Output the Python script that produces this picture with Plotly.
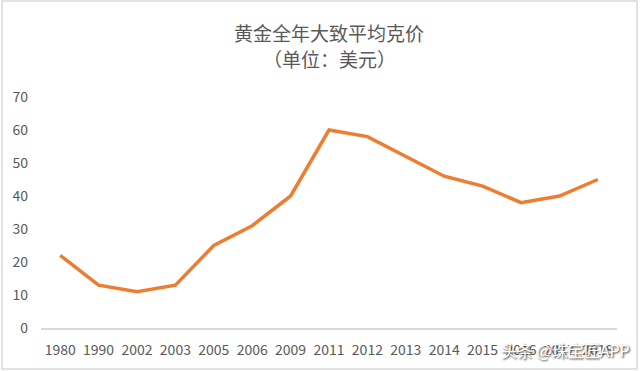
import plotly.graph_objects as go

years = ["1980", "1990", "2002", "2003", "2005", "2006", "2009", "2011",
         "2012", "2013", "2014", "2015", "2016", "2017", "2018"]
prices = [22, 13, 11, 13, 25, 31, 40, 60, 58, 52, 46, 43, 38, 40, 45]
title_1 = "黄金全年大致平均克价"
title_2 = "（单位：美元）"
y_ticks = [0, 10, 20, 30, 40, 50, 60, 70]

fig = go.Figure()
fig.add_trace(go.Scatter(
    x=years, y=prices, mode="lines",
    line=dict(color="#ED7D31", width=3.5),
    hoverinfo="x+y",
))

font_family = "Noto Sans CJK SC, Liberation Sans, sans-serif"

fig.update_layout(
    width=640, height=371,
    margin=dict(l=41, r=23, t=97, b=43),
    paper_bgcolor="white", plot_bgcolor="white",
    showlegend=False,
    font=dict(family=font_family, color="#595959", size=14),
    xaxis=dict(
        type="category", range=[-0.5, len(years) - 0.5],
        showgrid=False, zeroline=False,
        showline=True, linecolor="#D9D9D9", linewidth=1.5,
        ticks="", tickfont=dict(size=14, color="#595959"),
        ticklabelstandoff=8,
    ),
    yaxis=dict(
        range=[0, 70], tickvals=y_ticks, showgrid=False, zeroline=False,
        showline=False, ticks="", tickfont=dict(size=14, color="#595959"),
        ticklabelstandoff=12,
    ),
    annotations=[
        dict(text=title_1, xref="paper", yref="paper", x=0.5, y=(371 - 43 - 32) / 231,
             xanchor="center", yanchor="middle", showarrow=False,
             font=dict(size=19, color="#595959", family=font_family)),
        dict(text=title_2, xref="paper", yref="paper", x=0.5, y=(371 - 43 - 58) / 231,
             xanchor="center", yanchor="middle", showarrow=False,
             font=dict(size=19, color="#595959", family=font_family)),
        dict(text="头条 @珠宝匠APP", xref="paper", yref="paper",
             x=(632 - 41) / 576, y=-(350 - 328) / 231,
             xanchor="right", yanchor="middle", showarrow=False,
             font=dict(size=16, color="white", family=font_family,
                       shadow="1px 1px 2px #333333")),
    ],
    shapes=[
        dict(type="rect", xref="paper", yref="paper",
             x0=-39 / 576, x1=(637 - 41) / 576, y0=-41 / 231, y1=(371 - 43 - 1) / 231,
             line=dict(color="#D9D9D9", width=1.5), layer="below"),
    ],
)

fig.write_html("out.html")
